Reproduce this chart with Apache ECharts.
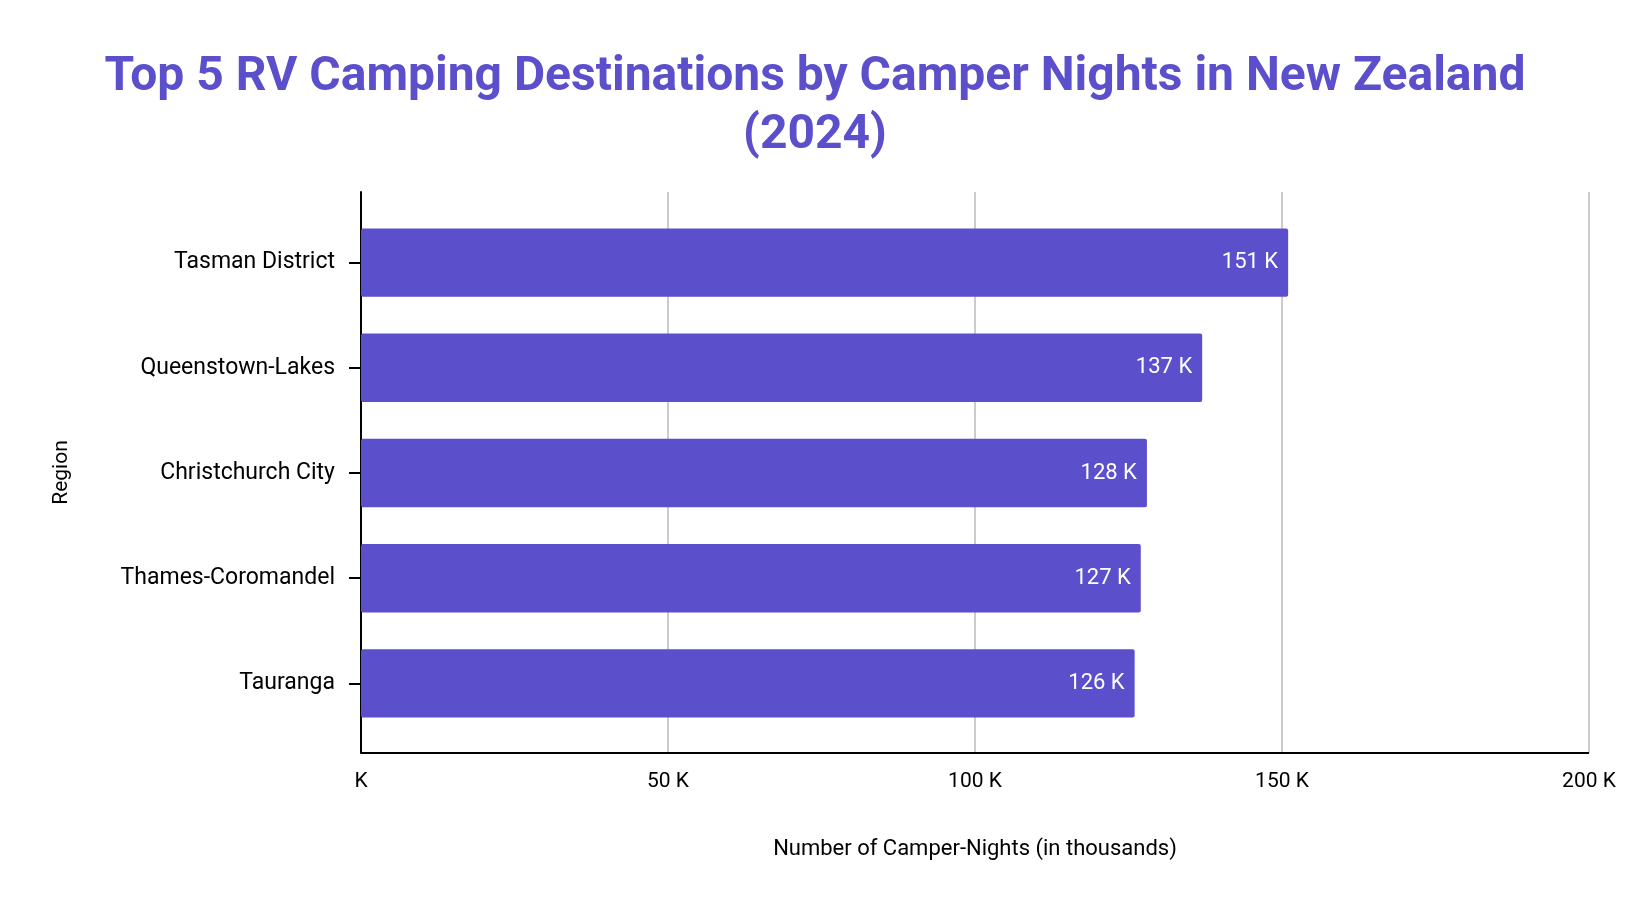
<!DOCTYPE html>
<html>
<head>
<meta charset="utf-8">
<script src="https://cdn.jsdelivr.net/npm/echarts@6/dist/echarts.min.js"></script>
<style>html,body{margin:0;padding:0;background:#fff}#main{width:1630px;height:904px}</style>
</head>
<body>
<div id="main"></div>
<script>
let regions = ['Tasman District', 'Queenstown-Lakes', 'Christchurch City', 'Thames-Coromandel', 'Tauranga'];
let nights = [151, 137, 128, 127, 126];

let myChart = echarts.init(document.getElementById('main'));
let option = {
    textStyle: {fontFamily: 'Roboto'},
    title: {
        text: 'Top 5 RV Camping Destinations by Camper Nights in New Zealand\n(2024)',
        left: 'center',
        top: 44,
        textStyle: {color: '#5b4fcb', fontSize: 48, fontWeight: 'bold', lineHeight: 58, fontFamily: 'Roboto'}
    },
    grid: [
        {left: 361, right: 41, top: 192, bottom: 151},
        {left: 361, right: 41, top: 210, bottom: 168}
    ],
    xAxis: [{
        gridIndex: 0,
        type: 'value',
        min: 0, max: 200, interval: 50,
        name: 'Number of Camper-Nights (in thousands)',
        nameLocation: 'middle',
        nameGap: 85,
        nameTextStyle: {fontSize: 22, color: '#000'},
        axisLabel: {fontSize: 21, color: '#000', margin: 18, formatter: v => v === 0 ? 'K' : v + ' K'},
        axisLine: {show: false},
        axisTick: {show: false},
        splitLine: {lineStyle: {color: '#ccc', width: 2}}
    }, {
        gridIndex: 1,
        type: 'value',
        min: 0, max: 200,
        show: false
    }],
    yAxis: [{
        gridIndex: 0,
        type: 'category',
        data: [''],
        name: 'Region',
        nameLocation: 'middle',
        nameGap: 289,
        nameTextStyle: {fontSize: 21, color: '#000'},
        axisLabel: {show: false},
        axisLine: {lineStyle: {color: '#000', width: 2}},
        axisTick: {show: false}
    }, {
        gridIndex: 1,
        type: 'category',
        inverse: true,
        data: regions,
        axisLabel: {fontSize: 23, color: '#000', margin: 26},
        axisLine: {show: false},
        axisTick: {show: true, alignWithLabel: true, length: 12, lineStyle: {color: '#000', width: 2}}
    }],
    series: [{
        type: 'bar',
        xAxisIndex: 1,
        yAxisIndex: 1,
        data: nights,
        barCategoryGap: '35%',
        itemStyle: {color: '#5b4fcb', borderRadius: 2},
        label: {show: true, position: 'insideRight', color: '#fff', fontSize: 22, distance: 10, formatter: p => p.value + ' K'}
    }]
};
myChart.setOption(option);
// horizontal baseline along the bottom of the plot
myChart.setOption({
    graphic: [{
        type: 'line',
        shape: {x1: 361, y1: 753, x2: 1589, y2: 753},
        style: {stroke: '#000', lineWidth: 2}
    }]
});
</script>
</body>
</html>
